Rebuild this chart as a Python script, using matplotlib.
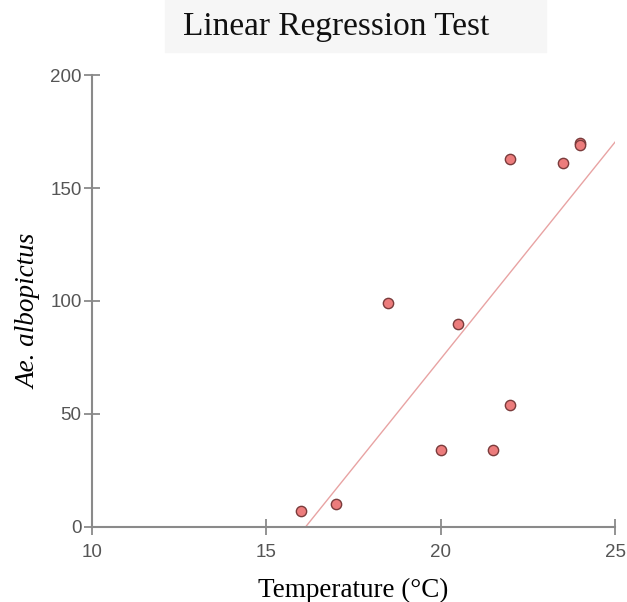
import numpy as np
import matplotlib.pyplot as plt
from matplotlib.patches import Rectangle

# temperature (°C) vs Ae. albopictus counts
temperature = [16, 17, 18.5, 20.5, 20, 21.5, 22, 22, 23.5, 24, 24]
albopictus = [7, 10, 99, 90, 34, 34, 54, 163, 161, 170, 169]
x_ticks = [10, 15, 20, 25]
y_ticks = [0, 50, 100, 150, 200]

fig = plt.figure(figsize=(6.27, 6.02), dpi=100)
ax = fig.add_axes([0.1467, 0.1246, 0.8343, 0.7508])

# regression line, drawn from where it crosses 0 up to x=25
slope, intercept = np.polyfit(temperature, albopictus, 1)
x0 = -intercept / slope
xl = np.array([x0, 25])
ax.plot(xl, slope * xl + intercept, color='#e8a3a3', lw=1.0, zorder=2)

ax.scatter(temperature, albopictus, s=55, color='#ec7c7c',
           edgecolor='#7a3b3b', linewidth=1.0, zorder=3, clip_on=False)

ax.set_xlim(10, 25)
ax.set_ylim(0, 200)
ax.set_xticks(x_ticks)
ax.set_yticks(y_ticks)
for s in ['top', 'right']:
    ax.spines[s].set_visible(False)
for s in ['left', 'bottom']:
    ax.spines[s].set_color('#8a8a8a')
    ax.spines[s].set_linewidth(1.5)
ax.tick_params(direction='inout', length=11, width=1.3, color='#8a8a8a',
               labelsize=13.5, labelcolor='#555555')
ax.tick_params(axis='x', pad=7)
ax.tick_params(axis='y', pad=2)
for lab in ax.get_xticklabels() + ax.get_yticklabels():
    lab.set_family('Liberation Sans')

ax.set_xlabel('Temperature (°C)', family='Liberation Serif', fontsize=19.5, labelpad=12)
ax.set_ylabel('Ae. albopictus', family='Liberation Serif', style='italic',
              fontsize=19.5)
ax.yaxis.set_label_coords(-0.097, 0.476)

# title with light grey backdrop
fig.patches.append(Rectangle((165 / 627, 1 - 52 / 602), 381 / 627, 52 / 602,
                             transform=fig.transFigure, color='#f6f6f6', zorder=0))
fig.text(0.5365, 1 - 27 / 602, 'Linear Regression Test', family='Liberation Serif',
         fontsize=24, ha='center', va='center', color='#111111')

fig.savefig('out.png', dpi=100)
